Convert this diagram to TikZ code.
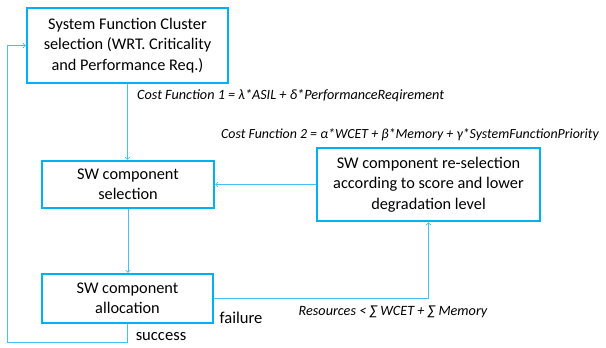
\documentclass[tikz,border=0pt]{standalone}
\usepackage{fontspec}
\setmainfont{Carlito}
\usetikzlibrary{positioning}
\definecolor{boxblue}{RGB}{0,176,240}
\definecolor{lineblue}{RGB}{70,192,242}

\begin{document}
\begin{tikzpicture}[x=1pt,y=-1pt,
    blockbox/.style={draw=boxblue, line width=2.4pt, align=center, inner sep=2pt,
        font=\fontsize{16.3}{20.5}\selectfont},
    flow/.style={draw=lineblue, line width=0.9pt, ->},
    costlabel/.style={font=\fontsize{14.2}{16}\selectfont\itshape, inner sep=0pt},
    flowlabel/.style={font=\fontsize{16.6}{19}\selectfont, inner sep=0pt}]
    \useasboundingbox (0,0) rectangle (606,348);

    % Boxes
    \node[blockbox, minimum width=201pt, minimum height=75pt] (cluster) at (127.5,45.5)
        {System Function Cluster\\selection (WRT. Criticality\\and Performance Req.)};
    \node[blockbox, minimum width=172pt, minimum height=47pt] (select) at (128,184.5)
        {SW component\\selection};
    \node[blockbox, minimum width=223pt, minimum height=73pt] (reselect) at (428.5,184.5)
        {SW component re-selection\\according to score and lower\\degradation level};
    \node[blockbox, minimum width=171pt, minimum height=49pt] (alloc) at (127.5,298.5)
        {SW component\\allocation};

    % Cost functions
    \node[costlabel, anchor=west] (cost1) at (137,96)
        {Cost Function 1 = λ*ASIL + δ*PerformanceReqirement};
    \node[costlabel, anchor=west, font=\fontsize{13.9}{16}\selectfont\itshape] (cost2) at (221,135)
        {Cost Function 2 = α*WCET + β*Memory + γ*SystemFunctionPriority};

    % Flow
    \draw[flow] (cluster.south) -- (cluster.south |- select.north);
    \draw[flow] (select.south) -- (select.south |- alloc.north);
    \draw[flow] (reselect.west) -- (select.east);
    \draw[flow] (alloc.east) -| (reselect.south);

    % Loop back on success
    \coordinate (loopbot) at (7,342);
    \draw[flow] (alloc.south) |- (loopbot) |- (cluster.west);

    % Branch labels
    \node[flowlabel] (failure) at (241,318) {failure};
    \node[flowlabel] (success) at (161,337) {success};
    \node[costlabel] (resources) at (393,312) {Resources < ∑ WCET + ∑ Memory};
\end{tikzpicture}
\end{document}
